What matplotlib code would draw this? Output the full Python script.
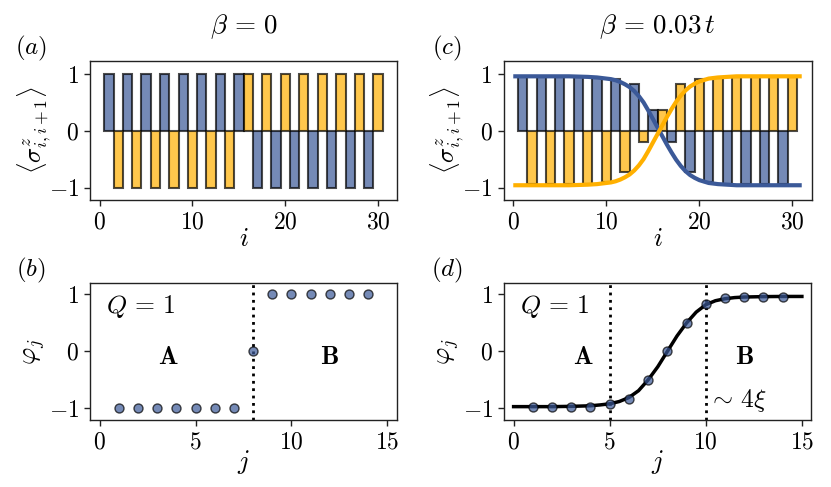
import matplotlib
matplotlib.use("Agg")
import matplotlib.pyplot as plt
import numpy as np

plt.rcParams['font.family'] = 'serif'
plt.rcParams['font.serif'] = ['cmr10']
plt.rcParams['mathtext.fontset'] = 'cm'
plt.rcParams['axes.formatter.use_mathtext'] = True
plt.rcParams['axes.unicode_minus'] = True

BLUE = '#3B5998'
YELLOW = '#FFB000'

# ---------------- data ----------------
# panel (a): beta = 0
a_blue_i = [1, 3, 5, 7, 9, 11, 13, 15, 17, 19, 21, 23, 25, 27, 29]
a_blue_v = [1, 1, 1, 1, 1, 1, 1, 1, -1, -1, -1, -1, -1, -1, -1]
a_yel_i = [2, 4, 6, 8, 10, 12, 14, 16, 18, 20, 22, 24, 26, 28, 30]
a_yel_v = [-1, -1, -1, -1, -1, -1, -1, 1, 1, 1, 1, 1, 1, 1, 1]

# panel (c): beta = 0.03 t
c_blue_i = [1, 3, 5, 7, 9, 11, 13, 15, 17, 19, 21, 23, 25, 27, 29]
c_blue_v = [0.94, 0.94, 0.94, 0.94, 0.93, 0.91, 0.82, 0.36, -0.19, -0.73, -0.90, -0.93, -0.94, -0.94, -0.94]
c_yel_i = [2, 4, 6, 8, 10, 12, 14, 16, 18, 20, 22, 24, 26, 28, 30]
c_yel_v = [-0.94, -0.94, -0.94, -0.93, -0.90, -0.73, -0.19, 0.36, 0.82, 0.91, 0.93, 0.94, 0.94, 0.94, 0.94]

# fitted profiles in (c)
c_curve_x = [0, 1, 2, 3, 4, 5, 6, 7, 8, 9, 10, 10.5, 11, 11.5, 12, 12.5, 13, 13.5, 14, 14.5, 15,
             15.5, 16, 16.5, 17, 17.5, 18, 18.5, 19, 19.5, 20, 21, 22, 23, 24, 25, 26, 27, 28, 29, 30, 31]
c_curve_blue = [0.96, 0.96, 0.96, 0.96, 0.96, 0.96, 0.96, 0.955, 0.95, 0.94, 0.92, 0.91, 0.89, 0.86, 0.82,
                0.77, 0.70, 0.61, 0.50, 0.36, 0.21, 0.06, -0.09, -0.24, -0.38, -0.51, -0.62, -0.71, -0.78,
                -0.83, -0.87, -0.92, -0.94, -0.95, -0.96, -0.96, -0.96, -0.96, -0.96, -0.96, -0.96, -0.96]
c_curve_yel = [-0.96, -0.96, -0.96, -0.96, -0.96, -0.96, -0.96, -0.955, -0.95, -0.94, -0.92, -0.91, -0.89,
               -0.86, -0.82, -0.77, -0.70, -0.61, -0.50, -0.36, -0.21, -0.06, 0.09, 0.24, 0.38, 0.51, 0.62,
               0.71, 0.78, 0.83, 0.87, 0.92, 0.94, 0.95, 0.96, 0.96, 0.96, 0.96, 0.96, 0.96, 0.96, 0.96]

# panel (b)
b_j = [1, 2, 3, 4, 5, 6, 7, 8, 9, 10, 11, 12, 13, 14]
b_phi = [-1, -1, -1, -1, -1, -1, -1, 0, 1, 1, 1, 1, 1, 1]

# panel (d)
d_j = [1, 2, 3, 4, 5, 6, 7, 8, 9, 10, 11, 12, 13, 14]
d_phi = [-0.97, -0.97, -0.97, -0.97, -0.93, -0.84, -0.50, 0.0, 0.50, 0.84, 0.94, 0.96, 0.96, 0.96]
d_curve_x = [0, 1, 2, 3, 4, 4.5, 5, 5.5, 6, 6.5, 7, 7.5, 8, 8.5, 9, 9.5, 10, 10.5, 11, 11.5, 12, 13, 14, 15]
d_curve_y = [-0.97, -0.97, -0.97, -0.965, -0.955, -0.94, -0.92, -0.88, -0.81, -0.69, -0.50, -0.27, 0.0,
             0.27, 0.50, 0.69, 0.82, 0.89, 0.925, 0.945, 0.955, 0.962, 0.965, 0.965]

b_vlines = [8]
d_vlines = [5, 10]

# ---------------- figure ----------------
fig = plt.figure(figsize=(8.31, 4.87), dpi=100)
W, H = 831, 487


def add_ax(x0, y0, x1, y1):
    return fig.add_axes([x0 / W, 1 - y1 / H, (x1 - x0) / W, (y1 - y0) / H])


ax_a = add_ax(90, 61, 397, 200)
ax_c = add_ax(503.5, 61, 811.5, 200)
ax_b = add_ax(90, 282.5, 397, 420.3)
ax_d = add_ax(504, 282.5, 811.5, 420.3)

TICK_FS = 17
for ax in (ax_a, ax_b, ax_c, ax_d):
    ax.tick_params(labelsize=TICK_FS, width=1.0, length=4, color='#222222', pad=4)
    for s in ax.spines.values():
        s.set_linewidth(1.0)
        s.set_color('#222222')
    ax.set_yticks([-1, 0, 1])

bar_kw = dict(width=1.0, alpha=0.7, edgecolor='black', linewidth=1.5)

# (a)
ax_a.bar(a_blue_i, a_blue_v, color=BLUE, **bar_kw)
ax_a.bar(a_yel_i, a_yel_v, color=YELLOW, **bar_kw)

# (c)
ax_c.bar(c_blue_i, c_blue_v, color=BLUE, **bar_kw)
ax_c.bar(c_yel_i, c_yel_v, color=YELLOW, **bar_kw)
ax_c.plot(c_curve_x, c_curve_blue, color=BLUE, lw=3, solid_capstyle='butt')
ax_c.plot(c_curve_x, c_curve_yel, color=YELLOW, lw=3, solid_capstyle='butt')

for ax in (ax_a, ax_c):
    ax.set_xlim(-1.05, 32.05)
    ax.set_ylim(-1.22, 1.23)
    ax.set_xticks([0, 10, 20, 30])
    ax.set_xlabel(r'$i$', fontsize=19, labelpad=-4)

ax_a.set_ylabel(r'$\langle \sigma^z_{i,i+1}\rangle$', fontsize=18)
ax_c.set_ylabel(r'$\langle \sigma^z_{i,i+1}\rangle$', fontsize=18)
ax_a.yaxis.set_label_coords(-0.118, 0.5)
ax_c.yaxis.set_label_coords(-0.118, 0.5)

# (b)
for xv in b_vlines:
    ax_b.axvline(xv, color='black', ls=':', lw=2)
ax_b.scatter(b_j, b_phi, s=42, color=BLUE, alpha=0.7, edgecolors='black', linewidths=1.0, zorder=3)

# (d)
ax_d.plot(d_curve_x, d_curve_y, color='black', lw=2.5, zorder=2)
for xv in d_vlines:
    ax_d.axvline(xv, color='black', ls=':', lw=2)
ax_d.scatter(d_j, d_phi, s=42, color=BLUE, alpha=0.7, edgecolors='black', linewidths=1.0, zorder=3)

for ax in (ax_b, ax_d):
    ax.set_xlim(-0.5, 15.5)
    ax.set_ylim(-1.21, 1.21)
    ax.set_xticks([0, 5, 10, 15])
    ax.set_xlabel(r'$j$', fontsize=19, labelpad=-4)
    ax.set_ylabel(r'$\varphi_j$', fontsize=19)
    ax.yaxis.set_label_coords(-0.14, 0.5)
    ax.text(2.15, 0.78, r'$Q\,=\,1$', fontsize=18.5, ha='center', va='center')
    ax.text(3.6, -0.1, r'$\mathbf{A}$', fontsize=18.5, ha='center', va='center')
    ax.text(12.0, -0.1, r'$\mathbf{B}$', fontsize=18.5, ha='center', va='center')

ax_d.text(11.65, -0.86, r'$\sim\, 4\xi$', fontsize=18.5, ha='center', va='center')

# titles
fig.text(244 / W, 1 - 33 / H, r'$\beta\,=\,0$', fontsize=19.5, ha='center', va='baseline')
fig.text(657.5 / W, 1 - 33 / H, r'$\beta\,=\,0.03\,t$', fontsize=19.5, ha='center', va='baseline')

# panel labels
fig.text(31 / W, 1 - 48 / H, r'$(a)$', fontsize=18, ha='center', va='center')
fig.text(447 / W, 1 - 48 / H, r'$(c)$', fontsize=18, ha='center', va='center')
fig.text(31 / W, 1 - 270 / H, r'$(b)$', fontsize=18, ha='center', va='center')
fig.text(447 / W, 1 - 270 / H, r'$(d)$', fontsize=18, ha='center', va='center')

fig.savefig('out.png', dpi=100)
